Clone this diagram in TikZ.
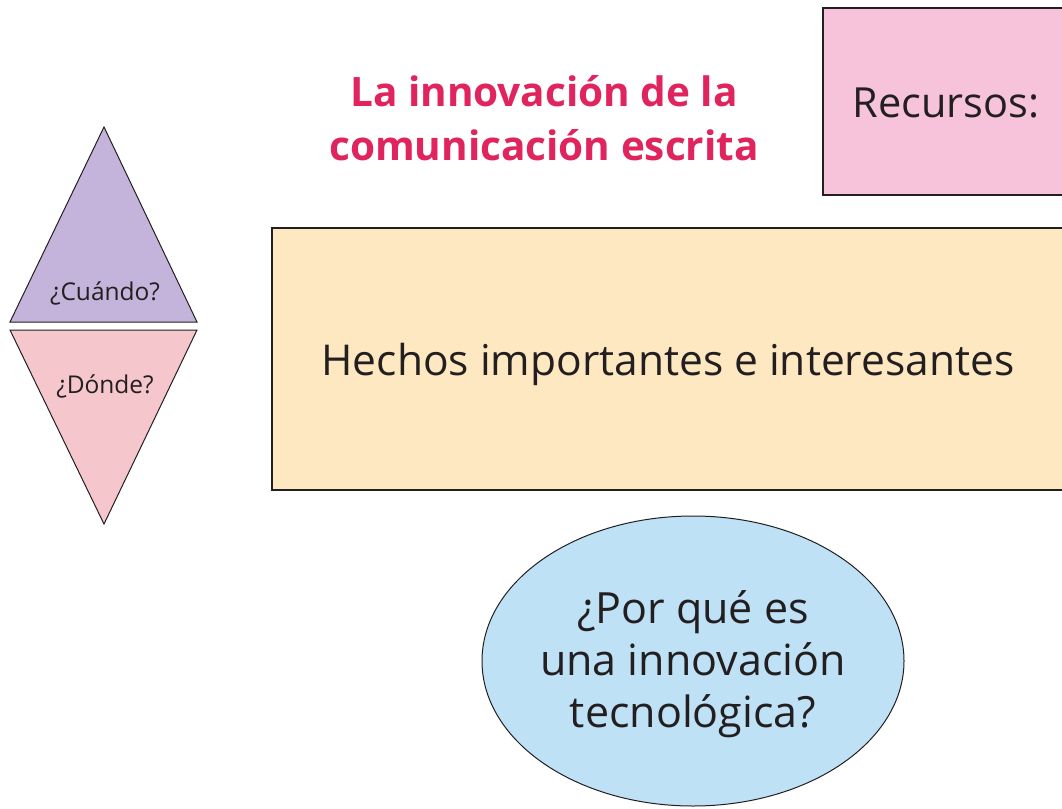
\documentclass[tikz,border=0pt]{standalone}
\usepackage{fontspec}
\setmainfont{Open Sans}
\usetikzlibrary{shapes.geometric}
\definecolor{ink}{HTML}{231F20}
\definecolor{titlemag}{HTML}{E0245E}
\definecolor{purplefill}{HTML}{C4B4DB}
\definecolor{pinkfill}{HTML}{F5C7CD}
\definecolor{recfill}{HTML}{F6C3DB}
\definecolor{yelfill}{HTML}{FDE8C1}
\definecolor{bluefill}{HTML}{BEE1F6}
\tikzset{
  box/.style={draw=ink, line width=1.8pt},
  tri/.style={draw=ink, line width=1pt},
  lbl/.style={text=ink, inner sep=0pt},
}
\begin{document}
\begin{tikzpicture}[x=1pt,y=-1pt]
\useasboundingbox[fill=white] (0,0) rectangle (1062,808);
\clip (0,0) rectangle (1062,808);
% boxes
\draw[box, fill=recfill] (823,8) rectangle (1075,195);
\draw[box, fill=yelfill] (272,228) rectangle (1075,490);
% triangles
\draw[tri, fill=purplefill] (104,127) -- (197,322) -- (10,322) -- cycle;
\draw[tri, fill=pinkfill] (10,330) -- (197,330) -- (104,524) -- cycle;
% ellipse
\draw[tri, fill=bluefill] (693,661) ellipse [x radius=211, y radius=145];
% texts
\node[lbl, text=titlemag, align=center, font=\fontsize{40.5}{54}\selectfont\bfseries] (title) at (544,118) {La innovación de la\\comunicación escrita};
\node[lbl, font=\fontsize{41.5}{46}\selectfont] (rec) at (946,103) {Recursos:};
\node[lbl, font=\fontsize{42.5}{48}\selectfont] (hechos) at (668,364) {Hechos importantes e interesantes};
\node[lbl, font=\fontsize{24.5}{28}\selectfont] (cuando) at (105,293) {¿Cuándo?};
\node[lbl, font=\fontsize{24.5}{28}\selectfont] (donde) at (105,386) {¿Dónde?};
\node[lbl, align=center, font=\fontsize{43}{52}\selectfont] (porque) at (693,664) {¿Por qué es\\una innovación\\tecnológica?};
\end{tikzpicture}
\end{document}
